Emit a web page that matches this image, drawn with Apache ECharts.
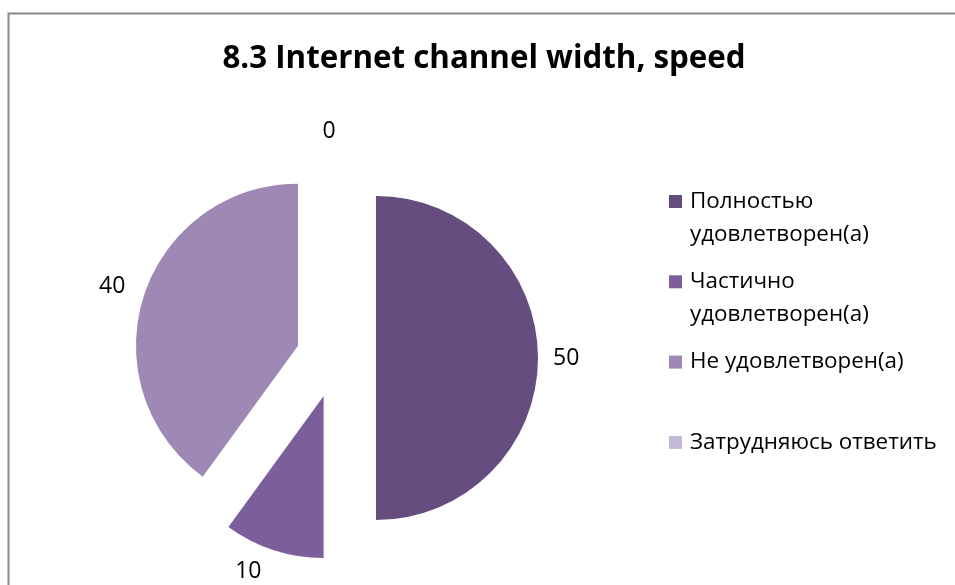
<!DOCTYPE html>
<html>
<head>
<meta charset="utf-8">
<script src="https://cdn.jsdelivr.net/npm/echarts@6/dist/echarts.min.js"></script>
<style>
  html, body { margin: 0; padding: 0; background: #ffffff; }
  #chart { width: 955px; height: 585px; }
</style>
</head>
<body>
<div id="chart"></div>
<script>
// Survey answers for item 8.3
const titleText = '8.3 Internet channel width, speed';
const categories = [
  'Полностью удовлетворен(а)',
  'Частично удовлетворен(а)',
  'Не удовлетворен(а)',
  'Затрудняюсь ответить'
];
const values = [50, 10, 40, 0];
// Legend entries as they wrap in the side panel
const legendLines = [
  ['Полностью', 'удовлетворен(а)'],
  ['Частично', 'удовлетворен(а)'],
  ['Не удовлетворен(а)'],
  ['Затрудняюсь ответить']
];

const colors = ['#654e7f', '#7b5e9a', '#9d89b4', '#c4b9d4'];
// small nudges that put each value label where the outside-end labels sit
const labelNudge = [
  { dx: 0, dy: 0 },
  { dx: -4, dy: 12 },
  { dx: -4, dy: -6 },
  { dx: -2, dy: -15, align: 'center' }
];

const FONT = '"Open Sans", "Noto Sans", sans-serif';

const chart = echarts.init(document.getElementById('chart'), null, { renderer: 'canvas' });

const pieData = categories.map((name, i) => ({
  name: name,
  value: values[i],
  selected: true,
  itemStyle: { color: colors[i] }
}));

chart.setOption({
  animation: false,
  backgroundColor: '#ffffff',
  color: colors,
  graphic: [{
    type: 'rect',
    left: 6, top: 11,
    shape: { x: 0, y: 0, width: 1100, height: 800 },
    style: { fill: 'none', stroke: '#898989', lineWidth: 2 },
    silent: true, z: -1
  }],
  title: {
    text: titleText,
    left: 484,
    top: 44,
    padding: 0,
    textAlign: 'center',
    textStyle: { fontFamily: FONT, fontSize: 31.3, fontWeight: 'bold', color: '#000000' }
  },
  legend: {
    orient: 'vertical',
    left: 669,
    top: 152,
    padding: 0,
    itemWidth: 13,
    itemHeight: 13,
    itemGap: -18.7,
    icon: 'rect',
    selectedMode: false,
    data: categories,
    formatter: function (name) {
      const lines = legendLines[categories.indexOf(name)];
      // pad to three lines so the marker lines up with the first text line
      return ['', lines[0], lines.length > 1 ? lines[1] : ''].join('\n');
    },
    textStyle: {
      fontFamily: FONT, fontSize: 22.4, lineHeight: 33, color: '#000000',
      padding: [0, 0, 0, 3]
    }
  },
  series: [{
    type: 'pie',
    center: [336, 358],
    radius: [0, 162],
    startAngle: 90,
    clockwise: true,
    selectedMode: 'multiple',
    selectedOffset: 40,
    avoidLabelOverlap: false,
    stillShowZeroSum: true,
    data: pieData,
    itemStyle: { borderWidth: 0 },
    select: { itemStyle: { borderWidth: 0 } },
    emphasis: { disabled: true },
    label: {
      show: true,
      position: 'outside',
      formatter: '{c}',
      fontFamily: FONT,
      fontSize: 23,
      color: '#000000',
      distanceToLabelLine: 5
    },
    labelLine: { show: false, length: 10, length2: 0 },
    labelLayout: function (params) {
      const n = labelNudge[params.dataIndex];
      const out = { dx: n.dx, dy: n.dy };
      if (n.align) out.align = n.align;
      return out;
    }
  }]
});
</script>
</body>
</html>
